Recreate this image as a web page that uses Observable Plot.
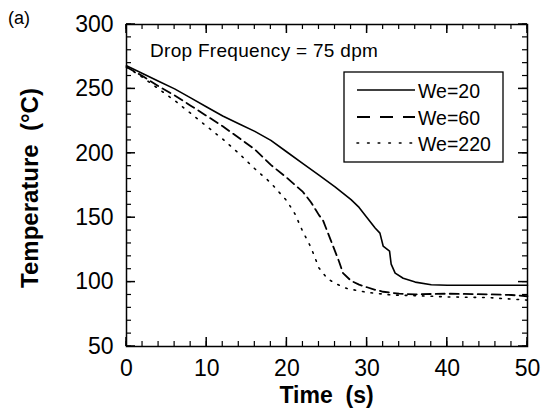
<!DOCTYPE html>
<html><head><meta charset="utf-8">
<script src="https://cdn.jsdelivr.net/npm/d3@7"></script>
<script src="https://cdn.jsdelivr.net/npm/@observablehq/plot@0.6"></script>
<style>body{margin:0;background:#fff}</style>
</head><body><div id="chart"></div>
<script>
// ---- data ----
const seriesNames = ["We=20", "We=60", "We=220"];
const time20 = [0,2,4,6,8,10,12,14,16,18,20,22,24,26,28,29,30,31,31.6,32,32.8,33,33.5,34.5,36,38,40,45,50];
const temp20 = [268,262,256,250,243,236,229,223,217,210,201,192,183,174,164,158,150,142,138,128,124,114,107,103,100,98,97.5,97.5,97.5];
const time60 = [0,2,4,6,8,10,12,14,16,18,20,22,23,24,24.5,25,25.5,26,26.5,27,28,29,30,31,32,34,36,40,45,48,50];
const temp60 = [267,260,252,245,237,229,221,212,203,191,181,170,162,152,148,140,132,124,116,107,101,98,96,94,92.5,91,90.5,91,90.5,90,89];
const time220 = [0,2,4,6,8,10,12,14,16,18,19,20,21,22,23,24,25,26,27.5,30,33,36,40,45,50];
const temp220 = [267,259,250,241,231,221,211,200,188,177,170,163,153,139,127,111,103,99,95,92,90,89.5,88.5,88,86];
const xTicks = [0,10,20,30,40,50];
const yTicks = [50,100,150,200,250,300];
const xMinor = d3.range(0, 51, 2);
const yMinor = d3.range(50, 301, 10);
const titleText = "Drop Frequency = 75 dpm";
const panelLabel = "(a)";
const xTitle = "Time  (s)";
const yTitle = "Temperature  (°C)";

const toRows = (ts, vs, s) => ts.map((t, i) => ({t, T: vs[i], s}));
const rows20 = toRows(time20, temp20, seriesNames[0]);
const rows60 = toRows(time60, temp60, seriesNames[1]);
const rows220 = toRows(time220, temp220, seriesNames[2]);

// ---- layout ----
const W = 550, H = 414, mL = 126, mR = 23, mT = 24, mB = 68;
const fw = W - mL - mR, fh = H - mT - mB;
const font = "'Liberation Sans', Arial, Helvetica, sans-serif";
const majorLen = 9, minorLen = 5;

const plot = Plot.plot({
  width: W, height: H,
  marginLeft: mL, marginRight: mR, marginTop: mT, marginBottom: mB,
  style: {fontFamily: font, background: "#fff", color: "#000", overflow: "visible"},
  x: {domain: [0, 50], label: null},
  y: {domain: [50, 300], label: null},
  marks: [
    Plot.axisX(xTicks, {anchor: "bottom", tickSize: 0, tickPadding: 13, fontSize: 23, label: null}),
    Plot.axisY(yTicks, {anchor: "left", tickSize: 0, tickPadding: 13, fontSize: 23, label: null}),
    Plot.line(rows20, {x: "t", y: "T", stroke: "#000", strokeWidth: 1.6}),
    Plot.line(rows60, {x: "t", y: "T", stroke: "#000", strokeWidth: 1.8, strokeDasharray: "9,5"}),
    Plot.line(rows220, {x: "t", y: "T", stroke: "#000", strokeWidth: 1.6, strokeDasharray: "1.6,7", strokeLinecap: "round"}),
    Plot.frame({stroke: "#000", strokeWidth: 1.5})
  ]
});

const svg = d3.select(plot);
const addText = (x, y, size, txt, weight) => svg.append("text").attr("x", x).attr("y", y)
  .attr("text-anchor", "start").attr("font-size", size).attr("font-weight", weight || "normal")
  .attr("font-family", font).attr("fill", "#000").text(txt);
addText(8, 24, 18, panelLabel);
addText(150, 57, 19, titleText).attr("letter-spacing", 0.3);
addText(mL + fw / 2, 403, 23, xTitle, "bold").attr("text-anchor", "middle");
svg.append("text").attr("transform", `translate(38,188) rotate(-90)`).attr("text-anchor", "middle")
  .attr("font-size", 24).attr("font-weight", "bold").attr("font-family", font).attr("fill", "#000").text(yTitle);

// legend
const lg = svg.append("g");
lg.append("rect").attr("x", 344).attr("y", 72).attr("width", 159).attr("height", 90)
  .attr("fill", "#fff").attr("stroke", "#000").attr("stroke-width", 1.3);
const entries = [
  {name: seriesNames[0], y: 90, dash: null, w: 1.4},
  {name: seriesNames[1], y: 117, dash: "13,10", w: 1.8},
  {name: seriesNames[2], y: 143, dash: "1.6,9", w: 1.6}
];
entries.forEach(e => {
  const l = lg.append("line").attr("x1", 357).attr("x2", 415).attr("y1", e.y).attr("y2", e.y)
    .attr("stroke", "#000").attr("stroke-width", e.w);
  if (e.dash) l.attr("stroke-dasharray", e.dash);
  if (e.name === seriesNames[2]) l.attr("stroke-linecap", "round");
  lg.append("text").attr("x", 418).attr("y", e.y + 7.5).attr("font-size", 19.5)
    .attr("text-anchor", "start").attr("font-family", font).attr("fill", "#000").text(e.name);
});

// inward ticks on all four sides, placed through Plot's own scales
const sx = plot.scale("x"), sy = plot.scale("y");
const fx0 = mL, fx1 = W - mR, fy0 = mT, fy1 = H - mB;
const tick = (x1, y1, x2, y2, w) => svg.append("line")
  .attr("x1", x1).attr("y1", y1).attr("x2", x2).attr("y2", y2)
  .attr("stroke", "#000").attr("stroke-width", w);
const xTickLines = (vals, len, w) => vals.forEach(v => {
  const px = sx.apply(v);
  tick(px, fy1, px, fy1 - len, w);
  tick(px, fy0, px, fy0 + len, w);
});
const yTickLines = (vals, len, w) => vals.forEach(v => {
  const py = sy.apply(v);
  tick(fx0, py, fx0 + len, py, w);
  tick(fx1, py, fx1 - len, py, w);
});
xTickLines(xMinor, minorLen, 1.2);
xTickLines(xTicks, majorLen, 1.5);
yTickLines(yMinor, minorLen, 1.2);
yTickLines(yTicks, majorLen, 1.5);

document.getElementById("chart").appendChild(plot);
</script>
</body></html>
